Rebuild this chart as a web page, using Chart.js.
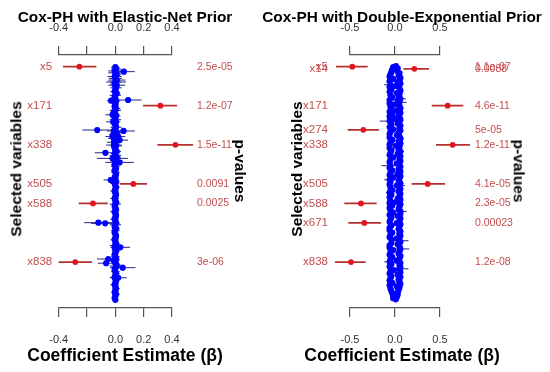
<!DOCTYPE html>
<html><head><meta charset="utf-8">
<script src="https://cdn.jsdelivr.net/npm/chart.js@4.4.1/dist/chart.umd.min.js"></script>
<style>
html,body{margin:0;padding:0;background:#fff;}
#wrap{position:relative;width:550px;height:372px;overflow:hidden;background:#fff;}
.cv{position:absolute;top:0;width:275px;height:372px;}
.t{position:absolute;font-family:'Liberation Sans',Arial,sans-serif;font-weight:bold;color:#000;white-space:nowrap;line-height:1;transform:translate(-50%,-50%);}
.rl{transform:translate(-50%,-50%) rotate(-90deg);}
.rr{transform:translate(-50%,-50%) rotate(90deg);}
</style></head><body>
<div id="wrap">
<div class="cv" style="left:0"><canvas id="c1" width="275" height="372"></canvas></div>
<div class="cv" style="left:275px"><canvas id="c2" width="275" height="372"></canvas></div>
<div class="t" style="left:125px;top:17px;font-size:15.4px">Cox-PH with Elastic-Net Prior</div>
<div class="t" style="left:402px;top:17px;font-size:15.4px">Cox-PH with Double-Exponential Prior</div>
<div class="t rl" style="left:16px;top:169px;font-size:15.5px">Selected variables</div>
<div class="t rl" style="left:297px;top:169px;font-size:15.5px">Selected variables</div>
<div class="t rr" style="left:240px;top:171px;font-size:15.5px">p-values</div>
<div class="t rr" style="left:519px;top:171px;font-size:15.5px">p-values</div>
<div class="t" style="left:125px;top:356px;font-size:17.5px">Coefficient Estimate (β)</div>
<div class="t" style="left:402px;top:356px;font-size:17.5px">Coefficient Estimate (β)</div>
</div>
<script>
// ---------- Left panel: Elastic-Net prior ----------
const L_tickVals = [-0.4, -0.2, 0.0, 0.2, 0.4];
const L_tickLabels = ['-0.4', '', '0.0', '0.2', '0.4'];
const L_redRows = [5, 171, 338, 505, 588, 838];
const L_redEst = [-0.254, 0.318, 0.424, 0.127, -0.158, -0.283];
const L_redLo  = [-0.370, 0.196, 0.297, 0.030, -0.259, -0.400];
const L_redHi  = [-0.134, 0.436, 0.549, 0.224, -0.054, -0.165];
const L_redP   = ['2.5e-05', '1.2e-07', '1.5e-11', '0.0091', '0.0025', '3e-06'];
// dense core of non-selected variables (every 8th variable, from x7)
const L_coreEst = [
 0.00,0.005,-0.005,0.00,0.01,-0.005,0.00,0.005,0.00,-0.005,
 0.00,0.005,0.00,-0.005,0.01,0.00,-0.005,0.00,0.005,0.00,
 0.00,-0.005,0.005,0.00,-0.01,0.00,0.005,-0.005,0.00,0.005,
 -0.005,0.00,0.005,0.00,-0.01,0.01,-0.015,0.02,-0.01,0.015,
 -0.01,0.00,0.005,-0.005,0.00,0.01,-0.005,0.00,0.01,-0.01,
 0.01,0.00,-0.005,0.00,0.005,-0.005,0.00,0.005,0.00,-0.005,
 0.00,0.005,-0.005,0.00,0.005,0.00,-0.005,0.00,0.005,0.00,
 -0.005,0.00,0.005,0.00,-0.005,0.00,0.005,-0.005,0.00,0.005,
 0.00,-0.005,0.00,0.005,0.00,-0.005,0.005,0.00,-0.005,0.00,
 0.005,0.00,-0.005,0.00,0.005,0.00,-0.005,0.00,0.005,0.00,
 -0.005,0.00,0.005,-0.01,0.00,0.005,0.01,0.00,-0.005,0.00,
 0.005,0.00,-0.005,0.00,0.005,0.00,-0.005,0.00,0.005,0.00,
 -0.005,0.005,0.00,-0.005,0.00];
const L_coreErr = [
 0.03,0.035,0.045,0.05,0.03,0.05,0.045,0.025,0.04,0.03,
 0.025,0.04,0.02,0.03,0.025,0.04,0.02,0.025,0.03,0.02,
 0.025,0.02,0.03,0.04,0.025,0.02,0.03,0.025,0.04,0.02,
 0.03,0.025,0.04,0.02,0.05,0.04,0.03,0.05,0.04,0.025,
 0.05,0.03,0.04,0.025,0.02,0.03,0.025,0.04,0.03,0.025,
 0.04,0.02,0.025,0.03,0.02,0.025,0.03,0.02,0.025,0.03,
 0.02,0.025,0.03,0.02,0.025,0.02,0.03,0.025,0.02,0.025,
 0.03,0.02,0.025,0.04,0.02,0.025,0.02,0.03,0.025,0.02,
 0.025,0.03,0.02,0.025,0.04,0.02,0.025,0.03,0.02,0.025,
 0.02,0.025,0.03,0.02,0.025,0.04,0.02,0.025,0.03,0.02,
 0.025,0.03,0.02,0.04,0.025,0.03,0.05,0.025,0.02,0.03,
 0.025,0.02,0.03,0.025,0.02,0.025,0.03,0.02,0.025,0.02,
 0.02,0.025,0.02,0.02,0.02];
const L_coreRows = L_coreEst.map((_, k) => 7 + 8 * k);
// visible non-selected variables sticking out of the core
const L_outRows = [26, 62, 70, 84, 147, 150, 210, 240, 275, 279, 303, 318, 339, 372, 396, 413, 488, 670, 673, 775, 825, 843, 862, 905];
const L_outEst  = [0.06, 0.01, 0.005, 0.01, 0.09, -0.03, -0.02, -0.015, -0.128, 0.058, -0.02, 0.03, -0.01, -0.07, -0.02, 0.03, -0.033, -0.12, -0.072, 0.035, -0.05, -0.065, 0.052, 0.02];
const L_outErr  = [0.077, 0.06, 0.07, 0.06, 0.095, 0.03, 0.05, 0.05, 0.105, 0.08, 0.05, 0.06, 0.055, 0.075, 0.11, 0.1, 0.05, 0.1, 0.1, 0.07, 0.08, 0.06, 0.09, 0.06];

// ---------- Right panel: Double-Exponential prior ----------
const R_tickVals = [-0.5, 0.0, 0.5];
const R_tickLabels = ['-0.5', '0.0', '0.5'];
const R_redRows = [5, 14, 171, 274, 338, 505, 588, 671, 838];
const R_redEst = [-0.474, 0.215, 0.585, -0.352, 0.641, 0.363, -0.378, -0.341, -0.489];
const R_redLo  = [-0.656, 0.093, 0.407, -0.526, 0.456, 0.185, -0.563, -0.519, -0.667];
const R_redHi  = [-0.304, 0.378, 0.759, -0.178, 0.833, 0.556, -0.204, -0.156, -0.326];
const R_redP   = ['1.1e-07', '0.0088', '4.6e-11', '5e-05', '1.2e-11', '4.1e-05', '2.3e-05', '0.00023', '1.2e-08'];
// dense band of non-selected variables (every 5th variable, from x2)
const R_coreEst = [
 0.01,-0.02,0.03,-0.03,0.02,-0.04,0.05,-0.05,0.04,-0.06,
 0.06,-0.02,0.05,-0.06,0.03,0.06,-0.05,0.01,-0.06,0.05,
 -0.04,0.06,-0.06,0.02,0.05,-0.05,0.04,-0.03,0.06,-0.06,
 0.03,0.05,-0.06,-0.01,0.05,-0.05,0.06,-0.04,0.02,-0.06,
 0.06,-0.03,0.04,-0.06,0.05,0.00,0.06,-0.06,-0.05,0.03,
 -0.04,0.06,-0.06,0.05,-0.02,0.06,-0.05,0.04,-0.06,0.02,
 0.05,-0.06,0.06,-0.03,0.04,-0.05,0.06,-0.06,0.01,0.05,
 -0.06,0.04,-0.04,0.06,-0.05,0.03,-0.06,0.06,-0.02,0.05,
 -0.05,0.06,-0.06,0.02,0.05,-0.05,0.06,-0.06,0.04,-0.03,
 0.06,-0.05,0.03,-0.06,0.06,-0.02,0.05,-0.06,0.04,-0.05,
 0.06,-0.06,0.02,0.05,-0.05,0.06,-0.03,0.04,-0.06,0.06,
 -0.04,0.05,-0.06,0.03,0.06,-0.05,0.01,-0.06,0.06,-0.03,
 0.05,-0.06,0.04,-0.05,0.06,-0.02,0.06,-0.06,0.03,-0.04,
 0.06,-0.05,0.05,-0.06,0.02,0.06,-0.04,0.05,-0.06,0.04,
 -0.06,0.06,-0.03,0.05,-0.05,0.06,-0.06,0.02,-0.04,0.05,
 0.06,-0.04,0.03,-0.06,0.05,-0.06,0.06,-0.02,0.05,-0.05,
 0.04,-0.06,0.06,-0.03,0.05,-0.05,0.02,-0.06,0.06,-0.04,
 0.05,-0.06,0.06,0.05,-0.01,-0.05,0.06,-0.06,0.03,-0.04,
 0.06,-0.05,0.04,-0.06,0.05,-0.03,0.06,-0.06,0.02,0.05,
 -0.05,0.04,-0.04,0.03,-0.03,0.03,-0.02,0.02,-0.02,0.01];
const R_coreErr = [
 .02,.03,.02,.03,.03,.02,.03,.03,.02,.03,
 .03,.03,.04,.02,.03,.03,.07,.02,.03,.03,
 .03,.03,.02,.04,.03,.03,.02,.03,.06,.03,
 .03,.08,.03,.03,.02,.03,.03,.04,.02,.03,
 .03,.03,.02,.03,.04,.03,.03,.11,.03,.02,
 .03,.03,.02,.03,.06,.03,.03,.02,.03,.03,
 .03,.02,.04,.03,.03,.02,.03,.03,.07,.03,
 .02,.03,.03,.04,.02,.03,.03,.02,.03,.03,
 .03,.03,.02,.03,.03,.10,.03,.03,.02,.03,
 .03,.03,.04,.02,.03,.03,.02,.06,.03,.03,
 .03,.02,.09,.03,.03,.02,.03,.03,.04,.02,
 .03,.03,.02,.03,.03,.04,.02,.03,.03,.02,
 .03,.03,.02,.03,.07,.03,.02,.03,.03,.03,
 .02,.03,.03,.02,.03,.03,.04,.02,.03,.03,
 .03,.03,.02,.04,.03,.03,.02,.03,.03,.10,
 .03,.02,.03,.03,.02,.03,.10,.03,.02,.03,
 .02,.03,.03,.02,.03,.03,.02,.06,.03,.03,
 .03,.02,.03,.10,.03,.02,.03,.03,.02,.03,
 .03,.03,.02,.03,.03,.04,.02,.03,.03,.02,
 .03,.02,.03,.02,.03,.02,.02,.02,.02,.02];
const R_coreRows = R_coreEst.map((_, k) => 2 + 5 * k);
const R_outRows = [], R_outEst = [], R_outErr = [];

// ---------- styling ----------
const FONT = "'Liberation Sans',Arial,sans-serif";
const LABEL_COLOR = '#c24f4f';
const AXIS_COLOR = '#555555';
const BLUE = '#0000ff', NAVY = '#26268a', RED = '#e3141c', DARKRED = '#b3302e';
const ROW_MIN = -45, ROW_MAX = 1034;

function segs(rows, lo, hi) {
  const out = [];
  rows.forEach((r, i) => { out.push({x: lo[i], y: r}, {x: hi[i], y: r}, {x: null, y: null}); });
  return out;
}

// let marks that fall outside the (short, R-style) axis range still be drawn
const fullArea = {
  id: 'fullArea',
  beforeDatasetsDraw(c) { c.$saved = c.chartArea; c.chartArea = {left: 0, top: 0, right: c.width, bottom: c.height, width: c.width, height: c.height}; },
  afterDatasetsDraw(c) { if (c.$saved) c.chartArea = c.$saved; }
};

function build(id, P) {
  const rows = P.coreRows.concat(P.outRows);
  const est = P.coreEst.concat(P.outEst);
  const err = P.coreErr.concat(P.outErr);
  const bluePts = rows.map((r, i) => ({x: est[i], y: r}));
  const blueBars = segs(rows, est.map((e, i) => e - err[i]), est.map((e, i) => e + err[i]));
  const redPts = P.redRows.map((r, i) => ({x: P.redEst[i], y: r}));
  const redBars = segs(P.redRows, P.redLo, P.redHi);
  const pByRow = {};
  P.redRows.forEach((r, i) => { pByRow[r] = P.redP[i]; });

  const xAxis = (pos, h, pad) => ({
    type: 'linear', position: pos, min: P.tickVals[0], max: P.tickVals[P.tickVals.length - 1],
    afterBuildTicks: s => { s.ticks = P.tickVals.map(v => ({value: v})); },
    ticks: {
      autoSkip: false, maxRotation: 0, padding: pad, color: '#333',
      font: {family: FONT, size: 11},
      callback: (v, i) => P.tickLabels[i]
    },
    grid: {drawOnChartArea: false, drawTicks: true, tickLength: 9, color: AXIS_COLOR, lineWidth: 1.2},
    border: {display: true, color: AXIS_COLOR, width: 1.2},
    afterFit: s => { s.height = h; }
  });
  const yAxis = (pos, w, pad, fn, size) => ({
    type: 'linear', position: pos, reverse: true, min: ROW_MIN, max: ROW_MAX,
    afterBuildTicks: s => { s.ticks = P.redRows.map(v => ({value: v})); },
    ticks: {autoSkip: false, padding: pad, color: LABEL_COLOR, font: {family: FONT, size: size}, callback: fn},
    grid: {display: false, drawTicks: false},
    border: {display: false},
    afterFit: s => { s.width = w; }
  });

  return new Chart(document.getElementById(id), {
    type: 'scatter',
    plugins: [fullArea],
    data: {
      datasets: [
        {data: redPts, order: 1, pointRadius: 2.9, pointBackgroundColor: RED, pointBorderWidth: 0, clip: false, xAxisID: 'xB', yAxisID: 'y'},
        {type: 'line', data: redBars, order: 2, borderColor: DARKRED, borderWidth: 1.8, pointRadius: 0, spanGaps: false, fill: false, clip: false, xAxisID: 'xB', yAxisID: 'y'},
        {data: bluePts, order: 3, pointRadius: 3.1, pointBackgroundColor: BLUE, pointBorderWidth: 0, clip: false, xAxisID: 'xB', yAxisID: 'y'},
        {type: 'line', data: blueBars, order: 4, borderColor: NAVY, borderWidth: 1, pointRadius: 0, spanGaps: false, fill: false, clip: false, xAxisID: 'xB', yAxisID: 'y'}
      ]
    },
    options: {
      responsive: false, animation: false, devicePixelRatio: 1,
      layout: {padding: 0},
      plugins: {legend: {display: false}, tooltip: {enabled: false}, title: {display: false}},
      events: [],
      scales: {
        xT: xAxis('top', 55, 11),
        xB: xAxis('bottom', 64, 16),
        y: yAxis('left', P.leftW, P.leftPad, v => 'x' + v, 11.5),
        yR: yAxis('right', P.rightW, P.rightPad, v => pByRow[v] || '', 10.5)
      }
    }
  });
}

build('c1', {
  tickVals: L_tickVals, tickLabels: L_tickLabels,
  redRows: L_redRows, redEst: L_redEst, redLo: L_redLo, redHi: L_redHi, redP: L_redP,
  coreRows: L_coreRows, coreEst: L_coreEst, coreErr: L_coreErr,
  outRows: L_outRows, outEst: L_outEst, outErr: L_outErr,
  leftW: 58.7, leftPad: 6.5, rightW: 103, rightPad: 25
});
build('c2', {
  tickVals: R_tickVals, tickLabels: R_tickLabels,
  redRows: R_redRows, redEst: R_redEst, redLo: R_redLo, redHi: R_redHi, redP: R_redP,
  coreRows: R_coreRows, coreEst: R_coreEst, coreErr: R_coreErr,
  outRows: R_outRows, outEst: R_outEst, outErr: R_outErr,
  leftW: 75, leftPad: 22, rightW: 110, rightPad: 35
});
</script>
</body></html>
